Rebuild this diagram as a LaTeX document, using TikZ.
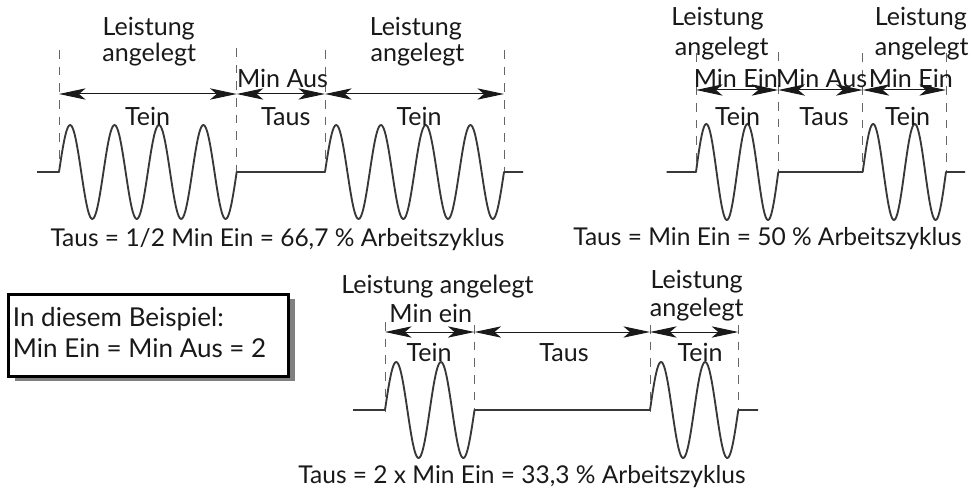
\documentclass[tikz,border=0pt]{standalone}
\usepackage{fontspec}
\setmainfont{Lato}
\usetikzlibrary{arrows.meta}
\begin{document}
\begin{tikzpicture}[x=0.75pt,y=-0.75pt,
  lbl/.style={inner sep=0pt, font=\fontsize{18.8}{22}\selectfont, text=black!90},
  caplbl/.style={inner sep=0pt, font=\fontsize{18.4}{22}\selectfont, text=black!90},
  boxtxt/.style={inner sep=0pt, anchor=west, font=\fontsize{19.5}{23}\selectfont, text=black!90},
  dimline/.style={line width=0.75pt, draw=black!90,
     {Stealth[length=20pt,width=8.5pt,inset=5pt]}-{Stealth[length=20pt,width=8.5pt,inset=5pt]}},
  guide/.style={line width=0.75pt, draw=black!60, dash pattern=on 6.5pt off 6pt},
  wave/.style={line width=1.4pt, draw=black!78, line join=round}]
\useasboundingbox (0,0) rectangle (972,492);

% ---------------- top left ----------------
\coordinate (A0) at (59,94);   \coordinate (A1) at (236.7,94);
\coordinate (A2) at (325,94);  \coordinate (A3) at (504,94);
\coordinate (At0) at (59,50);  \coordinate (Ab0) at (59,172);
\coordinate (At1) at (236.7,48); \coordinate (Ab1) at (236.7,172);
\coordinate (At2) at (325,50); \coordinate (Ab2) at (325,172);
\coordinate (At3) at (504,50); \coordinate (Ab3) at (504,172);
\draw[guide] (At0) -- (Ab0);
\draw[guide] (At1) -- (Ab1);
\draw[guide] (At2) -- (Ab2);
\draw[guide] (At3) -- (Ab3);
\draw[wave] (37,172) -- plot[domain=59:236.7,samples=160,smooth] (\x,{172-47*sin((\x-59)/177.7*1440)})
  -- plot[domain=325:504,samples=160,smooth] (\x,{172-47*sin((\x-325)/179*1440)}) -- (523,172);
\draw[dimline] (A0) -- (A1);
\draw[dimline] (A1) -- (A2);
\draw[dimline] (A2) -- (A3);
\node[lbl] (l1) at (148.7,28.3) {Leistung};
\node[lbl] (l2) at (149.2,55) {angelegt};
\node[lbl] (l3) at (282.5,78.3) {Min Aus};
\node[lbl] (l4) at (415.8,28.3) {Leistung};
\node[lbl] (l5) at (417.5,55) {angelegt};
\node[lbl] (l6) at (147.5,116.7) {Tein};
\node[lbl] (l7) at (285.8,116.7) {Taus};
\node[lbl] (l8) at (419,116.7) {Tein};
\node[caplbl] (c1) at (277.5,240) {Taus = 1/2 Min Ein = 66,7 \% Arbeitszyklus};

% ---------------- top right ----------------
\coordinate (B0) at (696,90);   \coordinate (B1) at (778.3,90);
\coordinate (B2) at (862.7,90); \coordinate (B3) at (946,90);
\coordinate (Bt0) at (696,53);   \coordinate (Bb0) at (696,172);
\coordinate (Bt1) at (778.3,52); \coordinate (Bb1) at (778.3,172);
\coordinate (Bt2) at (862.7,53); \coordinate (Bb2) at (862.7,172);
\coordinate (Bt3) at (946,53);   \coordinate (Bb3) at (946,172);
\draw[guide] (Bt0) -- (Bb0);
\draw[guide] (Bt1) -- (Bb1);
\draw[guide] (Bt2) -- (Bb2);
\draw[guide] (Bt3) -- (Bb3);
\draw[wave] (666.7,172) -- plot[domain=696:778.3,samples=100,smooth] (\x,{172-48*sin((\x-696)/82.3*720)})
  -- plot[domain=862.7:946,samples=100,smooth] (\x,{172-48*sin((\x-862.7)/83.3*720)}) -- (965,172);
\draw[dimline] (B0) -- (B1);
\draw[dimline] (B1) -- (B2);
\draw[dimline] (B2) -- (B3);
\node[lbl] (r1) at (717.5,18.3) {Leistung};
\node[lbl] (r2) at (721.7,48.3) {angelegt};
\node[lbl] (r3) at (735.8,78.3) {Min Ein};
\node[lbl] (r4) at (821.7,78.3) {Min Aus};
\node[lbl] (r5) at (910.8,78.3) {Min Ein};
\node[lbl] (r6) at (920.8,18.3) {Leistung};
\node[lbl] (r7) at (921.7,48.3) {angelegt};
\node[lbl] (r8) at (737.5,116.7) {Tein};
\node[lbl] (r9) at (824,116.7) {Taus};
\node[lbl] (r10) at (907.5,116.7) {Tein};
\node[caplbl] (c2) at (767.5,239) {Taus = Min Ein = 50 \% Arbeitszyklus};

% ---------------- bottom ----------------
\coordinate (C0) at (385,332);   \coordinate (C1) at (474.5,332);
\coordinate (C2) at (650,332);   \coordinate (C3) at (738.3,332);
\coordinate (Ct0) at (385,322);  \coordinate (Cb0) at (385,412);
\coordinate (Ct1) at (474.5,325); \coordinate (Cb1) at (474.5,412);
\coordinate (Ct2) at (650,325);  \coordinate (Cb2) at (650,412);
\coordinate (Ct3) at (738.3,325); \coordinate (Cb3) at (738.3,412);
\draw[guide] (Ct0) -- (Cb0);
\draw[guide] (Ct1) -- (Cb1);
\draw[guide] (Ct2) -- (Cb2);
\draw[guide] (Ct3) -- (Cb3);
\draw[wave] (353,410) -- plot[domain=385:474.5,samples=100,smooth] (\x,{410-48*sin((\x-385)/89.5*720)})
  -- plot[domain=650:738.3,samples=100,smooth] (\x,{410-48*sin((\x-650)/88.3*720)}) -- (758,410);
\draw[dimline] (C0) -- (C1);
\draw[dimline] (C1) -- (C2);
\draw[dimline] (C2) -- (C3);
\node[lbl] (b1) at (437.5,286.7) {Leistung angelegt};
\node[lbl] (b2) at (430.8,313.3) {Min ein};
\node[lbl] (b3) at (429,352.3) {Tein};
\node[lbl] (b4) at (564,352.3) {Taus};
\node[lbl] (b5) at (696.7,281.7) {Leistung};
\node[lbl] (b6) at (696.7,310) {angelegt};
\node[lbl] (b7) at (700,352.3) {Tein};
\node[caplbl] (c3) at (522,477) {Taus = 2 x Min Ein = 33,3 \% Arbeitszyklus};

% ---------------- example box ----------------
\fill[black!50] (15.3,299.3) rectangle (295.3,381);
\node[draw=black, line width=2pt, fill=white, minimum width=210pt, minimum height=61.2pt,
      inner sep=0pt, anchor=north west] (box) at (7.3,293.3) {};
\node[boxtxt] (x1) at (12.7,319.3) {In diesem Beispiel:};
\node[boxtxt] (x2) at (12.7,348.3) {Min Ein = Min Aus = 2};
\end{tikzpicture}
\end{document}
